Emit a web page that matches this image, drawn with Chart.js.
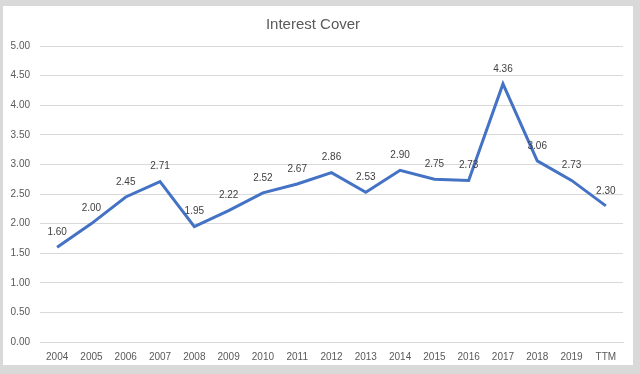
<!DOCTYPE html>
<html>
<head>
<meta charset="utf-8">
<script src="https://cdn.jsdelivr.net/npm/chart.js@4"></script>
<style>
    body { margin: 0; background: #d9d9d9; width: 640px; height: 374px; overflow: hidden; }
    .card { position: absolute; left: 3px; top: 6px; width: 630px; height: 359px; background: #fff; }
</style>
</head>
<body>
<div class="card"><canvas id="interestCover" width="630" height="359"></canvas></div>
<script>
let anos = ["2004", "2005", "2006", "2007", "2008", "2009", "2010", "2011", "2012", "2013", "2014", "2015", "2016", "2017", "2018", "2019", "TTM"];
let cobertura = [1.60, 2.00, 2.45, 2.71, 1.95, 2.22, 2.52, 2.67, 2.86, 2.53, 2.90, 2.75, 2.73, 4.36, 3.06, 2.73, 2.30];
let corTexto = "#595959";
let fonte = "'Liberation Sans', Arial, sans-serif";

// rotulos de dados acima de cada ponto
const rotulos = {
    id: "rotulos",
    afterDatasetsDraw(chart) {
        let ctx = chart.ctx;
        let meta = chart.getDatasetMeta(0);
        ctx.save();
        ctx.font = "10px " + fonte;
        ctx.fillStyle = "#404040";
        ctx.textAlign = "center";
        ctx.textBaseline = "middle";
        meta.data.forEach((ponto, i) => {
            ctx.fillText(cobertura[i].toFixed(2), ponto.x, ponto.y - 15);
        });
        ctx.restore();
    }
};

new Chart("interestCover", {
    type: "line",
    data: {
        labels: anos,
        datasets: [{
            data: cobertura,
            borderColor: "#4472c4",
            borderWidth: 3,
            pointRadius: 0,
            tension: 0,
            fill: false
        }]
    },
    options: {
        responsive: false,
        animation: false,
        layout: { padding: { left: 0, right: 10, top: 0, bottom: 0 } },
        plugins: {
            legend: { display: false },
            tooltip: { enabled: false },
            title: {
                display: true,
                text: "Interest Cover",
                color: corTexto,
                font: { family: fonte, size: 15, weight: "normal" },
                padding: { top: 10, bottom: 12 }
            }
        },
        scales: {
            x: {
                offset: true,
                grid: { display: false, drawTicks: false },
                border: { color: "#d9d9d9" },
                ticks: { color: corTexto, font: { family: fonte, size: 10 }, padding: 9, maxRotation: 0, autoSkip: false },
                afterFit(escala) { escala.height = 23; }
            },
            y: {
                min: 0,
                max: 5,
                ticks: {
                    stepSize: 0.5,
                    color: corTexto,
                    font: { family: fonte, size: 10 },
                    padding: 10,
                    callback: (v) => v.toFixed(2)
                },
                grid: { color: "#d9d9d9", drawTicks: false },
                border: { display: false },
                afterFit(escala) { escala.width = 37; }
            }
        }
    },
    plugins: [rotulos]
});
</script>
</body>
</html>
